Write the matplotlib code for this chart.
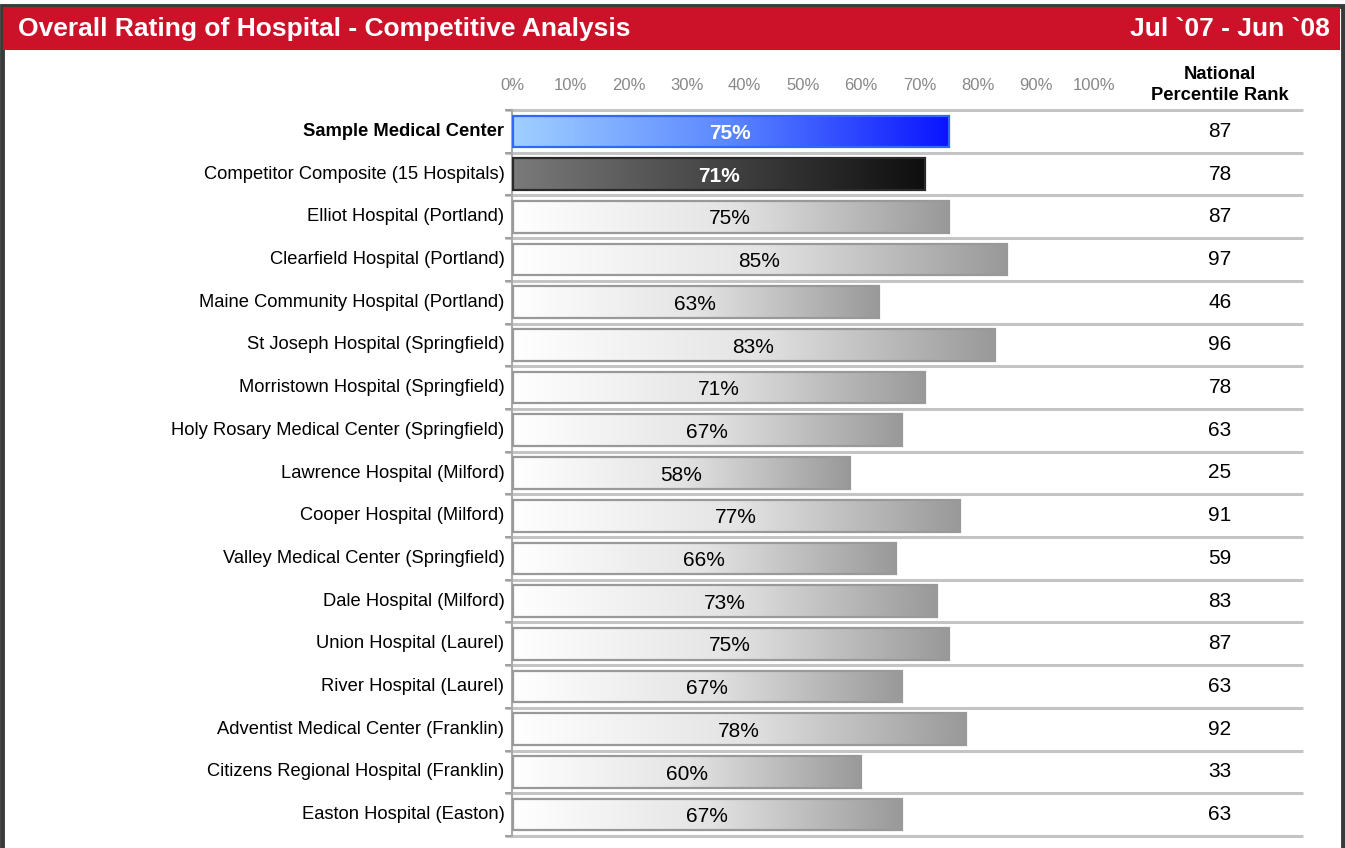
import matplotlib.pyplot as plt
import numpy as np
from matplotlib.colors import LinearSegmentedColormap
from matplotlib.patches import Rectangle

plt.rcParams['font.family'] = ['Liberation Sans', 'DejaVu Sans']

hospitals = ['Sample Medical Center', 'Competitor Composite (15 Hospitals)',
             'Elliot Hospital (Portland)', 'Clearfield Hospital (Portland)',
             'Maine Community Hospital (Portland)', 'St Joseph Hospital (Springfield)',
             'Morristown Hospital (Springfield)', 'Holy Rosary Medical Center (Springfield)',
             'Lawrence Hospital (Milford)', 'Cooper Hospital (Milford)',
             'Valley Medical Center (Springfield)', 'Dale Hospital (Milford)',
             'Union Hospital (Laurel)', 'River Hospital (Laurel)',
             'Adventist Medical Center (Franklin)', 'Citizens Regional Hospital (Franklin)',
             'Easton Hospital (Easton)']
ratings = [75, 71, 75, 85, 63, 83, 71, 67, 58, 77, 66, 73, 75, 67, 78, 60, 67]
ranks = [87, 78, 87, 97, 46, 96, 78, 63, 25, 91, 59, 83, 87, 63, 92, 33, 63]
ticks = [0, 10, 20, 30, 40, 50, 60, 70, 80, 90, 100]

W, H = 1345, 848
fig = plt.figure(figsize=(W / 100, H / 100), dpi=100)

# frame + header (kept behind the axes)
fig.patches.append(Rectangle((1.5 / W, -0.05), 1 - 4 / W, 1.05 - 6 / H, transform=fig.transFigure,
                             facecolor='white', edgecolor='#3a3a3a', linewidth=3.5, zorder=-2))
fig.patches.append(Rectangle((3 / W, 1 - 50 / H), 1 - 8 / W, 43 / H, transform=fig.transFigure,
                             facecolor='#cc1229', edgecolor='none', zorder=-1))
fig.text(18 / W, 1 - 29 / H, 'Overall Rating of Hospital - Competitive Analysis',
         color='white', fontsize=19, fontweight='bold', va='center', ha='left')
fig.text(1330 / W, 1 - 29 / H, 'Jul `07 - Jun `08',
         color='white', fontsize=19, fontweight='bold', va='center', ha='right')

# axes: 0% at x=512, 100% at x=1094, rows from y=110 to y=836
px_per_pct = (1094 - 512) / 100
ax_right = 1303
ax = fig.add_axes([512 / W, 1 - 836 / H, (ax_right - 512) / W, (836 - 110) / H])
ax.patch.set_alpha(0)
xmax = (ax_right - 512) / px_per_pct
n = len(hospitals)
row_px = (836 - 110) / n
ax.set_xlim(0, xmax)
ax.set_ylim(n - 0.5, -0.5)
for s in ax.spines.values():
    s.set_visible(False)
ax.set_yticks([])
ax.xaxis.tick_top()
ax.set_xticks(ticks)
ax.set_xticklabels([f'{t}%' for t in ticks], color='#888888', fontsize=12)
ax.tick_params(axis='x', length=0, pad=12)

# separators and axis line
for k in range(n + 1):
    ax.plot([-1.2, xmax], [k - 0.5, k - 0.5], color='#c4c4c4', lw=2.2,
            clip_on=False, solid_capstyle='butt', zorder=1)
    ax.plot([-1.2, 0], [k - 0.5, k - 0.5], color='#999999', lw=1.2,
            clip_on=False, solid_capstyle='butt', zorder=2)
ax.plot([0, 0], [-0.5, n - 0.5], color='#aaaaaa', lw=1.5, clip_on=False, zorder=2)

grey_cmap = LinearSegmentedColormap.from_list('g', ['#ffffff', '#e4e4e4', '#999999'])
blue_cmap = LinearSegmentedColormap.from_list('b', ['#a0d0ff', '#5a86ff', '#0a14ff'])
dark_cmap = LinearSegmentedColormap.from_list('d', ['#7a7a7a', '#444444', '#0e0e0e'])
grad = np.linspace(0, 1, 256).reshape(1, -1)
bh = 0.74

for i, (name, val, rk) in enumerate(zip(hospitals, ratings, ranks)):
    if i == 0:
        cmap, edge, tcol, tw = blue_cmap, '#3366ff', 'white', 'bold'
    elif i == 1:
        cmap, edge, tcol, tw = dark_cmap, '#2a2a2a', 'white', 'bold'
    else:
        cmap, edge, tcol, tw = grey_cmap, '#999999', 'black', 'normal'
    ax.imshow(grad, cmap=cmap, aspect='auto', extent=[0.15, val, i + bh / 2, i - bh / 2],
              zorder=3, interpolation='bicubic')
    ax.add_patch(Rectangle((0.15, i - bh / 2), val - 0.15, bh, facecolor='none',
                           edgecolor=edge, lw=1.6, zorder=4))
    ax.text(val / 2, i + 0.05, f'{val}%', ha='center', va='center', color=tcol,
            fontsize=15, fontweight=tw, zorder=5)
    ax.text(-1.3, i, name, ha='right', va='center', fontsize=13.2,
            fontweight='bold' if i == 0 else 'normal', clip_on=False)
    ax.text((1220 - 512) / px_per_pct, i, str(rk), ha='center', va='center',
            fontsize=15, clip_on=False)

ax.text((1220 - 512) / px_per_pct, -0.5 - 6 / row_px, 'National\nPercentile Rank',
        ha='center', va='bottom', fontsize=13.2, fontweight='bold', linespacing=1.3,
        clip_on=False)

ax.set_xlim(0, xmax)
ax.set_ylim(n - 0.5, -0.5)
fig.savefig('out.png', dpi=100)
